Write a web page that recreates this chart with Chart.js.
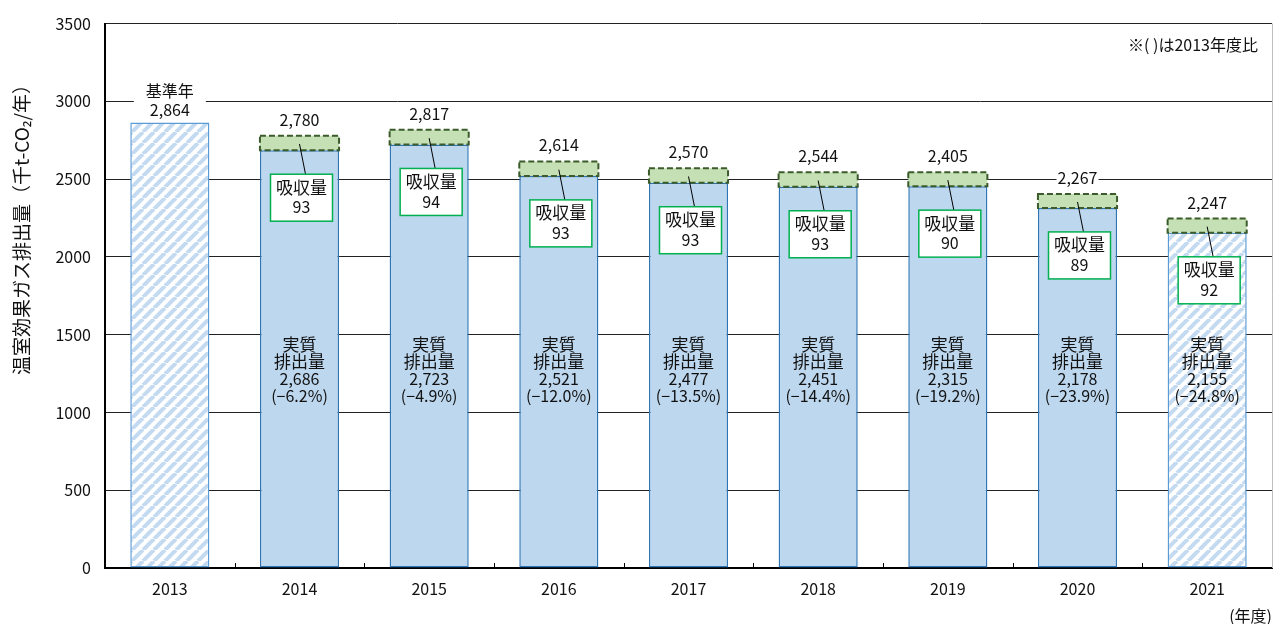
<!DOCTYPE html>
<html lang="ja">
<head>
<meta charset="utf-8">
<script src="https://cdn.jsdelivr.net/npm/chart.js@4"></script>
<style>body{margin:0;background:#fff}</style>
</head>
<body>
<canvas id="c" width="1277" height="624"></canvas>
<script>
// categories
const years = ['2013', '2014', '2015', '2016', '2017', '2018', '2019', '2020', '2021'];
// bar heights as drawn in the picture (net emissions, absorption)
const netBarHeight = [2864, 2686, 2723, 2521, 2477, 2451, 2455, 2315, 2155];
const absorption = [0, 93, 94, 93, 93, 93, 90, 89, 92];
// printed numbers
const totalPrinted = [2864, 2780, 2817, 2614, 2570, 2544, 2405, 2267, 2247];
const netPrinted = [null, 2686, 2723, 2521, 2477, 2451, 2315, 2178, 2155];
const changePct = [null, -6.2, -4.9, -12.0, -13.5, -14.4, -19.2, -23.9, -24.8];
const hatchedYears = ['2013', '2021'];
const yTicks = [0, 500, 1000, 1500, 2000, 2500, 3000, 3500];

const FONT = "'Noto Sans CJK JP', 'Noto Sans', sans-serif";
const fmt = v => v.toLocaleString('en-US');

function hatch() {
  const s = 11, c = document.createElement('canvas');
  c.width = s; c.height = s;
  const g = c.getContext('2d');
  g.fillStyle = '#fff';
  g.fillRect(0, 0, s, s);
  g.strokeStyle = '#c3daf0';
  g.lineWidth = 4;
  [-s, 0, s].forEach(k => {
    g.beginPath(); g.moveTo(k, s); g.lineTo(k + s, 0); g.stroke();
  });
  return g.createPattern(c, 'repeat');
}
const stripes = hatch();

const overlay = {
  id: 'overlay',
  afterDatasetsDraw(chart) {
    const { ctx, chartArea: a, scales: { x, y } } = chart;
    const net = chart.getDatasetMeta(0).data;
    const abs = chart.getDatasetMeta(1).data;
    ctx.save();

    // dashed outline of absorption segments
    ctx.setLineDash([6, 3]);
    ctx.lineWidth = 2;
    ctx.strokeStyle = '#3b5b2b';
    abs.forEach((b, i) => {
      if (!absorption[i]) return;
      ctx.strokeRect(b.x - b.width / 2, b.y, b.width, b.base - b.y);
    });
    ctx.setLineDash([]);

    // inward ticks on x axis between categories
    ctx.strokeStyle = '#000';
    ctx.lineWidth = 1;
    for (let i = 0; i < years.length - 1; i++) {
      const px = Math.round((x.getPixelForValue(i) + x.getPixelForValue(i + 1)) / 2) + 0.5;
      ctx.beginPath(); ctx.moveTo(px, a.bottom); ctx.lineTo(px, a.bottom - 5); ctx.stroke();
    }

    // right border of plot
    ctx.strokeStyle = '#bfbfbf';
    ctx.beginPath(); ctx.moveTo(a.right + 0.5, a.top); ctx.lineTo(a.right + 0.5, a.bottom); ctx.stroke();

    ctx.textAlign = 'center';
    ctx.textBaseline = 'middle';
    ctx.fillStyle = '#111';

    // total labels above bars
    abs.forEach((b, i) => {
      const top = absorption[i] ? b.y : net[i].y;
      const cx = b.x;
      ctx.font = '16px ' + FONT;
      if (i === 0) {
        ctx.fillStyle = '#fff';
        ctx.fillRect(cx - 36, top - 44, 72, 40);
        ctx.fillStyle = '#111';
        ctx.fillText('基準年', cx, top - 32);
        ctx.fillText(fmt(totalPrinted[i]), cx, top - 13);
      } else {
        const t = fmt(totalPrinted[i]);
        const w = ctx.measureText(t).width;
        ctx.fillStyle = '#fff';
        ctx.fillRect(cx - w / 2 - 1, top - 25, w + 2, 18);
        ctx.fillStyle = '#111';
        ctx.fillText(t, cx, top - 16);
      }
    });

    // absorption boxes with leader lines
    abs.forEach((b, i) => {
      if (!absorption[i]) return;
      const cx = b.x;
      const netTop = net[i].y;
      const boxTop = netTop + 24, bw = 62, bh = 47;
      const bx = cx + 2 - bw / 2;
      ctx.strokeStyle = '#000';
      ctx.lineWidth = 1;
      ctx.beginPath();
      ctx.moveTo(cx, (b.y + b.base) / 2 + 1);
      ctx.lineTo(cx + 6, boxTop);
      ctx.stroke();
      ctx.fillStyle = '#fff';
      ctx.fillRect(bx, boxTop, bw, bh);
      ctx.strokeStyle = '#00b050';
      ctx.lineWidth = 1.5;
      ctx.strokeRect(bx, boxTop, bw, bh);
      ctx.fillStyle = '#111';
      ctx.font = '17px ' + FONT;
      ctx.fillText('吸収量', cx + 2, boxTop + 13);
      ctx.font = '16px ' + FONT;
      ctx.fillText(String(absorption[i]), cx + 2, boxTop + 33);
    });

    // net emission labels inside bars
    const mid = y.getPixelForValue(1270);
    net.forEach((b, i) => {
      if (netPrinted[i] == null) return;
      const cx = b.x;
      ctx.fillStyle = '#111';
      ctx.font = '17px ' + FONT;
      ctx.fillText('実質', cx, mid - 26);
      ctx.fillText('排出量', cx, mid - 9);
      ctx.font = '16px ' + FONT;
      ctx.fillText(fmt(netPrinted[i]), cx, mid + 8);
      const p = changePct[i];
      ctx.fillText('(' + (p < 0 ? '−' : '+') + Math.abs(p).toFixed(1) + '%)', cx, mid + 25);
    });

    // notes and axis title
    ctx.font = '16px ' + FONT;
    ctx.textAlign = 'right';
    ctx.fillText('※( )は2013年度比', 1258, 45);
    ctx.fillText('(年度)', 1272, 616);
    ctx.save();
    ctx.translate(22, 225);
    ctx.rotate(-Math.PI / 2);
    ctx.textAlign = 'center';
    ctx.font = '19px ' + FONT;
    ctx.fillText('温室効果ガス排出量（千t-CO₂/年）', 0, 0);
    ctx.restore();

    ctx.restore();
  }
};

new Chart(document.getElementById('c'), {
  type: 'bar',
  data: {
    labels: years,
    datasets: [
      {
        label: '実質排出量',
        data: netBarHeight,
        backgroundColor: ctx => hatchedYears.includes(years[ctx.dataIndex]) ? stripes : '#bdd7ee',
        borderColor: ctx => hatchedYears.includes(years[ctx.dataIndex]) ? '#5b9bd5' : '#2e75b6',
        borderWidth: 1.5,
        borderSkipped: false
      },
      {
        label: '吸収量',
        data: absorption,
        backgroundColor: '#c5e0b4',
        borderWidth: 0
      }
    ]
  },
  options: {
    responsive: false,
    animation: false,
    barPercentage: 0.61,
    categoryPercentage: 1.0,
    layout: { padding: { top: 22, right: 5, left: 0, bottom: 0 } },
    plugins: { legend: { display: false }, tooltip: { enabled: false } },
    scales: {
      x: {
        stacked: true,
        grid: { display: false },
        border: { display: true, color: '#000', width: 2 },
        ticks: { color: '#111', font: { size: 16, family: FONT }, padding: 3 },
        afterFit: s => { s.height = 56; }
      },
      y: {
        stacked: true,
        min: 0,
        max: 3500,
        afterBuildTicks: s => { s.ticks = yTicks.map(v => ({ value: v })); },
        grid: { color: '#222', lineWidth: 1, drawTicks: false },
        border: { display: true, color: '#000', width: 2 },
        ticks: { color: '#111', font: { size: 16, family: FONT }, padding: 14, callback: v => String(v) },
        afterFit: s => { s.width = 105; }
      }
    }
  },
  plugins: [overlay]
});
</script>
</body>
</html>
